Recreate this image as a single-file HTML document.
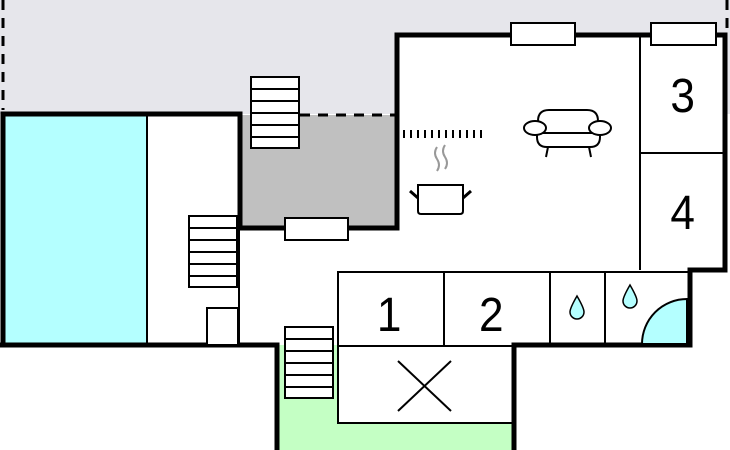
<!DOCTYPE html>
<html><head><style>body{margin:0;background:#fff}svg{display:block}</style></head><body>
<svg width="730" height="450" viewBox="0 0 730 450" xmlns="http://www.w3.org/2000/svg" font-family="Liberation Sans, sans-serif">
<rect x="0" y="0" width="730" height="114" fill="#e6e6eb"/>
<rect x="395" y="0" width="335" height="35" fill="#e6e6eb"/>
<line x1="3" y1="0" x2="3" y2="110" stroke="#000" stroke-width="3" stroke-dasharray="10,8"/>
<line x1="727" y1="0" x2="727" y2="32" stroke="#000" stroke-width="3" stroke-dasharray="10,8"/>
<rect x="5" y="116" width="142" height="228" fill="#b4ffff"/>
<rect x="147" y="116" width="93" height="228" fill="#fff"/>
<rect x="240" y="115" width="157" height="113" fill="#c0c0c0"/>
<rect x="397" y="35" width="328" height="237" fill="#fff"/>
<rect x="240" y="228" width="450" height="117" fill="#fff"/>
<rect x="277" y="345" width="237" height="105" fill="#c4ffc4"/>
<rect x="338" y="346" width="176" height="77" fill="#fff" stroke="#000" stroke-width="2"/>
<g stroke="#000" stroke-width="2"><line x1="398" y1="361" x2="451" y2="411"/><line x1="451" y1="361" x2="398" y2="411"/></g>
<line x1="300" y1="115" x2="395" y2="115" stroke="#000" stroke-width="3" stroke-dasharray="10,8"/>
<g stroke="#000" stroke-width="5" fill="none" stroke-linecap="square">
<polyline points="3,345 3,114 240,114 240,228 397,228 397,35 725,35 725,270 690,270 690,345 514,345 514,450"/>
<line x1="0" y1="345" x2="277" y2="345"/>
<line x1="277" y1="345" x2="277" y2="450"/>
</g>
<g stroke="#000" stroke-width="2" fill="none">
<line x1="147" y1="114" x2="147" y2="345"/>
<line x1="239" y1="228" x2="239" y2="345"/>
<line x1="640" y1="35" x2="640" y2="270"/>
<line x1="640" y1="153" x2="725" y2="153"/>
<rect x="338" y="272" width="352" height="74"/>
<line x1="444" y1="272" x2="444" y2="346"/>
<line x1="550" y1="272" x2="550" y2="346"/>
<line x1="605" y1="272" x2="605" y2="346"/>
<line x1="338" y1="346" x2="514" y2="346"/>
</g>
<path d="M642,344 A45,45 0 0 1 687,299 L687,344 Z" fill="#b4ffff" stroke="#000" stroke-width="2"/>
<g fill="#fff" stroke="#000" stroke-width="2">
<rect x="511" y="23" width="64" height="22"/>
<rect x="651" y="23" width="65" height="22"/>
<rect x="285" y="218" width="63" height="22"/>
<rect x="207" y="308" width="31" height="37"/>
</g>
<g fill="#fff" stroke="#000" stroke-width="2">
<rect x="251" y="77" width="48" height="71"/>
<rect x="189" y="216" width="48" height="71"/>
<rect x="285" y="327" width="48" height="71"/>
</g>
<g stroke="#000" stroke-width="2">
<line x1="251" y1="89" x2="299" y2="89"/><line x1="251" y1="101" x2="299" y2="101"/><line x1="251" y1="113" x2="299" y2="113"/><line x1="251" y1="125" x2="299" y2="125"/><line x1="251" y1="137" x2="299" y2="137"/>
<line x1="189" y1="228" x2="237" y2="228"/><line x1="189" y1="240" x2="237" y2="240"/><line x1="189" y1="252" x2="237" y2="252"/><line x1="189" y1="264" x2="237" y2="264"/><line x1="189" y1="276" x2="237" y2="276"/>
<line x1="285" y1="339" x2="333" y2="339"/><line x1="285" y1="351" x2="333" y2="351"/><line x1="285" y1="363" x2="333" y2="363"/><line x1="285" y1="375" x2="333" y2="375"/><line x1="285" y1="387" x2="333" y2="387"/>
</g>
<line x1="403" y1="134" x2="486" y2="134" stroke="#000" stroke-width="8" stroke-dasharray="2,5"/>
<g stroke="#999" stroke-width="2" fill="none"><path d="M437,147 q-4,6 0,12 q4,6 0,12"/><path d="M445,145 q-4,6 0,12 q4,6 0,12"/></g>
<path d="M418,185 h45 v26 q0,3 -3,3 h-39 q-3,0 -3,-3 z" fill="#fff" stroke="#000" stroke-width="2"/>
<g stroke="#000" stroke-width="3"><line x1="410" y1="191" x2="418" y2="198"/><line x1="471" y1="191" x2="463" y2="198"/></g>
<g fill="#fff" stroke="#000" stroke-width="2">
<path d="M538,133 v-12 q0,-11 11,-11 h38 q11,0 11,11 v12 z"/>
<path d="M537,133 h63 v4 q0,10 -10,10 h-43 q-10,0 -10,-10 z"/>
<ellipse cx="535" cy="128" rx="11" ry="7"/>
<ellipse cx="600" cy="128" rx="11" ry="7"/>
<line x1="548" y1="147" x2="546" y2="157"/><line x1="589" y1="147" x2="591" y2="157"/>
</g>
<g fill="#b4ffff" stroke="#000" stroke-width="1.5">
<path d="M577,296 q-7,12 -7,16 a7,7 0 0 0 14,0 q0,-4 -7,-16z"/>
<path d="M630,285 q-7,12 -7,16 a7,7 0 0 0 14,0 q0,-4 -7,-16z"/>
</g>
<g font-size="48" text-anchor="middle" fill="#000" transform="scale(0.92,1)">
<text x="742" y="112">3</text>
<text x="742" y="229">4</text>
<text x="423" y="331">1</text>
<text x="534" y="331">2</text>
</g>
</svg>
</body></html>
